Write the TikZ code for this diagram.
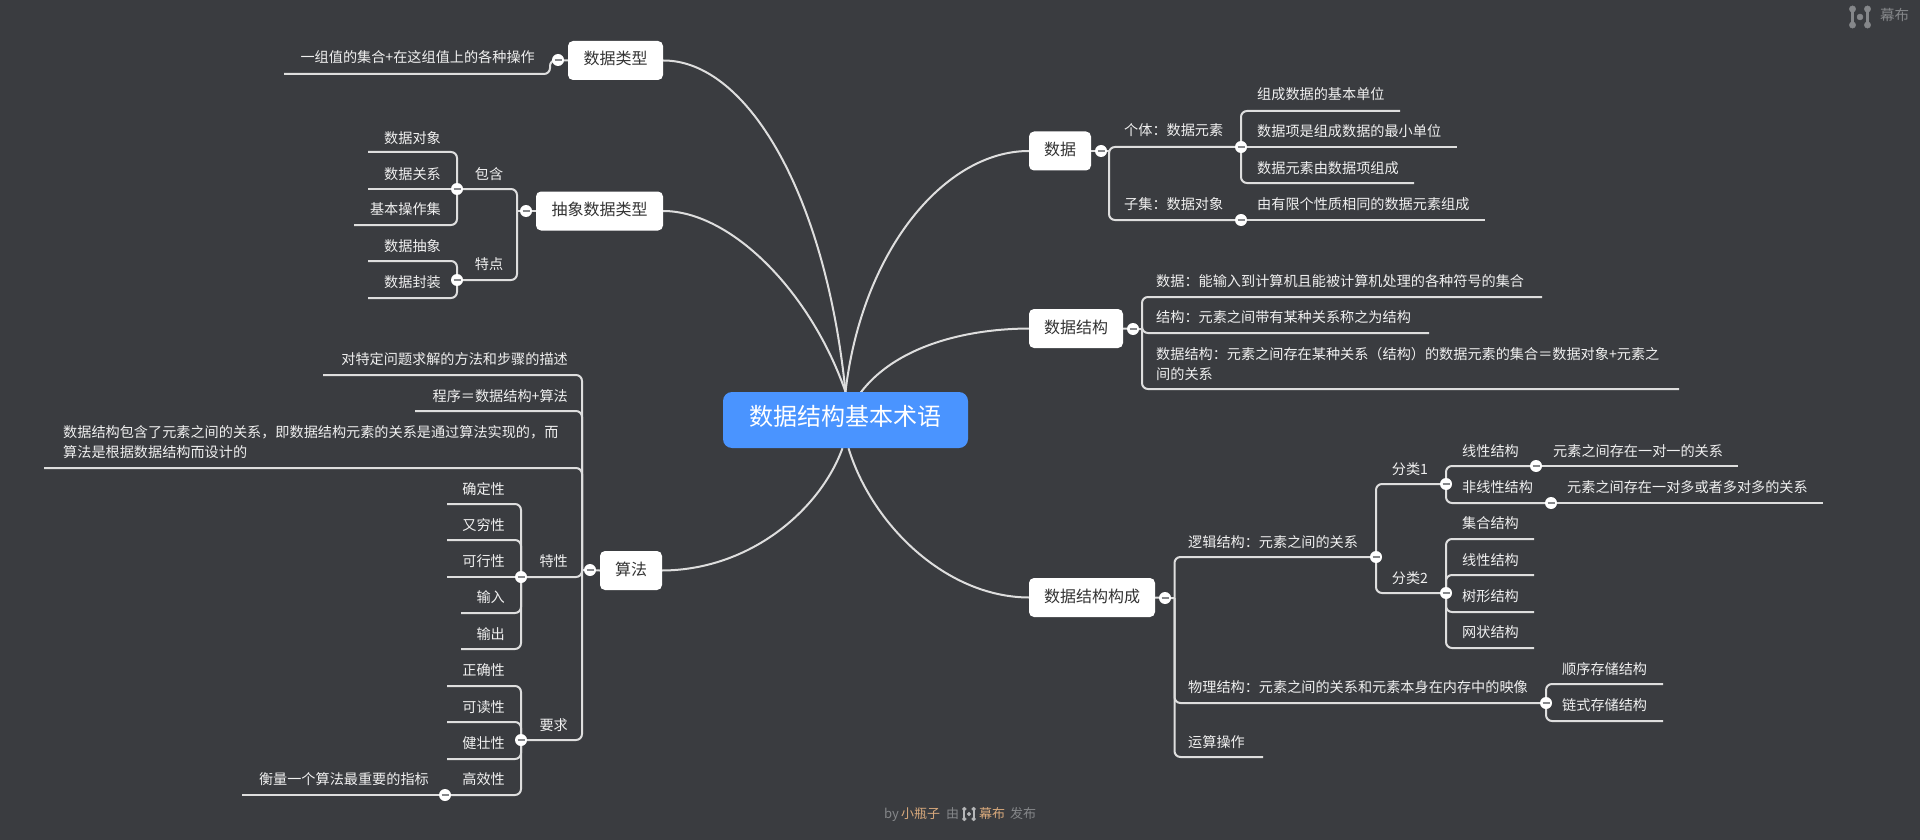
\documentclass[tikz,border=0pt]{standalone}
\usepackage{fontspec}
\setmainfont{Noto Sans CJK SC}
\usetikzlibrary{backgrounds}
\pgfdeclarelayer{edgelayer}
\pgfsetlayers{background,edgelayer,main}
\definecolor{bgc}{HTML}{3A3C40}
\definecolor{linec}{HTML}{DEDEDE}
\definecolor{rootc}{HTML}{4A94FF}
\definecolor{darktext}{HTML}{333333}
\definecolor{leaftext}{HTML}{F0F0F0}
\definecolor{footc}{HTML}{85878A}
\definecolor{orangec}{HTML}{D8A97C}
\tikzset{
  x=1pt,y=-1pt,
  link/.style={draw=linec,line width=2pt,rounded corners=6pt},
  curvelink/.style={draw=linec,line width=2pt},
  rootbox/.style={fill=rootc,rounded corners=9pt,text=white,inner sep=0pt,minimum width=245pt,minimum height=56pt,font=\fontsize{24}{30}\selectfont,text height=20pt,text depth=9pt},
  topic/.style={fill=white,rounded corners=5pt,text=darktext,inner sep=0pt,minimum height=39pt,font=\fontsize{16}{20}\selectfont,text height=12pt,text depth=3pt},
  leaf/.style={text=leaftext,inner sep=0pt,font=\fontsize{14.15}{20}\selectfont,text height=11pt,text depth=1pt},
  multi/.style={text=leaftext,inner sep=0pt,font=\fontsize{14.15}{20}\selectfont,align=left},
  toggle/.style={circle,fill=white,draw=none,minimum size=12pt,inner sep=0pt,
    path picture={\draw[draw=footc,line width=1.8pt] ([xshift=-3.5pt]path picture bounding box.center) -- ([xshift=3.5pt]path picture bounding box.center);}},
  foot/.style={text=footc,inner sep=0pt,font=\fontsize{13}{16}\selectfont,text height=10pt,text depth=1pt},
  footo/.style={foot,text=orangec},
  logo/.pic={
    \fill[pic actions] (-7.5,-8) circle (3.2) (7.5,-8) circle (3.2) (-7.5,8) circle (3.2) (7.5,8) circle (3.2) (0,0) circle (3);
    \draw[pic actions,line width=2.2pt] (-7.5,-8) -- (-7.5,8) (7.5,-8) -- (7.5,8);
  },
}
\begin{document}
\begin{tikzpicture}
\useasboundingbox (0,0) rectangle (1920,840);
\begin{pgfonlayer}{background}
\fill[bgc] (0,0) rectangle (1920,840);
\end{pgfonlayer}

% root and topics
\node[rootbox] (root) at (845.5,420) {数据结构基本术语};
\node[topic,minimum width=95pt] (tType) at (615.5,60.5) {数据类型};
\node[topic,minimum width=127pt] (tAdt) at (599.5,211) {抽象数据类型};
\node[topic,minimum width=62pt] (tAlg) at (631,570.5) {算法};
\node[topic,minimum width=62pt] (tData) at (1060,151) {数据};
\node[topic,minimum width=94pt] (tStruct) at (1076,328.5) {数据结构};
\node[topic,minimum width=126pt] (tComp) at (1092,597.5) {数据结构构成};

% toggles
\node[toggle] (cType) at (558,60) {};
\node[toggle] (cAdt) at (526,211) {};
\node[toggle] (cInc) at (457,189) {};
\node[toggle] (cFea) at (457,280) {};
\node[toggle] (cAlg) at (590,570) {};
\node[toggle] (cProp) at (521,577) {};
\node[toggle] (cReq) at (521,740) {};
\node[toggle] (cEff) at (445,795) {};
\node[toggle] (cData) at (1101,151) {};
\node[toggle] (cInd) at (1241,147) {};
\node[toggle] (cSub) at (1241,220) {};
\node[toggle] (cStruct) at (1133,329) {};
\node[toggle] (cComp) at (1165,598) {};
\node[toggle] (cLog) at (1376,557) {};
\node[toggle] (cOne) at (1446,484) {};
\node[toggle] (cTwo) at (1446,593) {};
\node[toggle] (cLin) at (1536,466) {};
\node[toggle] (cNon) at (1551,503) {};
\node[toggle] (cPhy) at (1546,703) {};

% free ends of the underlines
\coordinate (eType) at (284,74);
\coordinate (busAdt) at (517,211);
\coordinate (eA1) at (368,152);
\coordinate (eA2) at (368,189);
\coordinate (eA3) at (354,225);
\coordinate (eA4) at (368,261);
\coordinate (eA5) at (368,298);
\coordinate (busAlg) at (582,570);
\coordinate (eG1) at (323,375);
\coordinate (eG2) at (415,411);
\coordinate (eG3) at (44,468);
\coordinate (eP1) at (447,504);
\coordinate (eP2) at (447,540);
\coordinate (eP3) at (447,577);
\coordinate (eP4) at (461,613);
\coordinate (eP5) at (461,649);
\coordinate (eR1) at (447,686);
\coordinate (eR2) at (447,722);
\coordinate (eR3) at (447,759);
\coordinate (eR4) at (242,795);
\coordinate (busData) at (1109,151);
\coordinate (eD1) at (1400,111);
\coordinate (eD2) at (1457,147);
\coordinate (eD3) at (1414,183);
\coordinate (eD4) at (1485,220);
\coordinate (busStruct) at (1142,329);
\coordinate (eS1) at (1542,297);
\coordinate (eS2) at (1429,333);
\coordinate (eS3) at (1679,389);
\coordinate (busComp) at (1174.5,598);
\coordinate (eC3) at (1263,757);
\coordinate (eL1) at (1738,466);
\coordinate (eL2) at (1823,503);
\coordinate (eT1) at (1534,539);
\coordinate (eT2) at (1534,575);
\coordinate (eT3) at (1534,612);
\coordinate (eT4) at (1534,648);
\coordinate (eM1) at (1663,684);
\coordinate (eM2) at (1663,721);

\begin{pgfonlayer}{edgelayer}
% root curves
\draw[curvelink] (tType.east) .. controls (745,60) and (825,190) .. (root.north);
\draw[curvelink] (tAdt.east) .. controls (730,211) and (810,290) .. (root.north);
\draw[curvelink] (tAlg.east) .. controls (750,570) and (820,510) .. ([xshift=-3pt]root.south);
\draw[curvelink] (tData.west) .. controls (945,151) and (862,250) .. (root.north);
\draw[curvelink] (tStruct.west) .. controls (950,329) and (870,355) .. (root.center);
\draw[curvelink] (tComp.west) .. controls (946,597) and (872,525) .. ([xshift=3pt]root.south);
% data type
\draw[link] (tType.west) -- (cType.center) -- (550,60) |- (eType);
% abstract data type
\draw[link] (tAdt.west) -- (cAdt.center) -- (busAdt);
\draw[link] (busAdt) |- (cInc.center);
\draw[link] (busAdt) |- (cFea.center);
\draw[link] (cInc.center) |- (eA1);
\draw[link] (cInc.center) -- (eA2);
\draw[link] (cInc.center) |- (eA3);
\draw[link] (cFea.center) |- (eA4);
\draw[link] (cFea.center) |- (eA5);
% algorithm
\draw[link] (tAlg.west) -- (cAlg.center) -- (busAlg);
\draw[link] (busAlg) |- (eG1);
\draw[link] (busAlg) |- (eG2);
\draw[link] (busAlg) |- (eG3);
\draw[link] (busAlg) |- (cProp.center);
\draw[link] (busAlg) |- (cReq.center);
\draw[link] (cProp.center) |- (eP1);
\draw[link] (cProp.center) |- (eP2);
\draw[link] (cProp.center) -- (eP3);
\draw[link] (cProp.center) |- (eP4);
\draw[link] (cProp.center) |- (eP5);
\draw[link] (cReq.center) |- (eR1);
\draw[link] (cReq.center) |- (eR2);
\draw[link] (cReq.center) |- (eR3);
\draw[link] (cReq.center) |- (cEff.center);
\draw[link] (cEff.center) -- (eR4);
% data
\draw[link] (tData.east) -- (cData.center) -- (busData);
\draw[link] (busData) |- (cInd.center);
\draw[link] (busData) |- (cSub.center);
\draw[link] (cInd.center) |- (eD1);
\draw[link] (cInd.center) -- (eD2);
\draw[link] (cInd.center) |- (eD3);
\draw[link] (cSub.center) -- (eD4);
% data structure
\draw[link] (tStruct.east) -- (cStruct.center) -- (busStruct);
\draw[link] (busStruct) |- (eS1);
\draw[link] (busStruct) |- (eS2);
\draw[link] (busStruct) |- (eS3);
% composition
\draw[link] (tComp.east) -- (cComp.center) -- (busComp);
\draw[link] (busComp) |- (cLog.center);
\draw[link] (busComp) |- (cPhy.center);
\draw[link] (busComp) |- (eC3);
\draw[link] (cLog.center) |- (cOne.center);
\draw[link] (cLog.center) |- (cTwo.center);
\draw[link] (cOne.center) |- (cLin.center);
\draw[link] (cOne.center) |- (cNon.center);
\draw[link] (cLin.center) -- (eL1);
\draw[link] (cNon.center) -- (eL2);
\draw[link] (cTwo.center) |- (eT1);
\draw[link] (cTwo.center) |- (eT2);
\draw[link] (cTwo.center) |- (eT3);
\draw[link] (cTwo.center) |- (eT4);
\draw[link] (cPhy.center) |- (eM1);
\draw[link] (cPhy.center) |- (eM2);
\end{pgfonlayer}

% left texts
\node[leaf,anchor=east] (x1) at (535,58) {一组值的集合+在这组值上的各种操作};
\node[leaf] (x2) at (489,174) {包含};
\node[leaf] (x3) at (489,264) {特点};
\node[leaf,anchor=east] (x4) at (441,138) {数据对象};
\node[leaf,anchor=east] (x5) at (441,174) {数据关系};
\node[leaf,anchor=east] (x6) at (441,209) {基本操作集};
\node[leaf,anchor=east] (x7) at (441,246) {数据抽象};
\node[leaf,anchor=east] (x8) at (441,282) {数据封装};
\node[leaf,anchor=east] (x9) at (568,359) {对特定问题求解的方法和步骤的描述};
\node[leaf,anchor=east] (x10) at (568,396) {程序＝数据结构+算法};
\node[multi,anchor=west] (x11) at (63,442) {数据结构包含了元素之间的关系，即数据结构元素的关系是通过算法实现的，而\\算法是根据数据结构而设计的};
\node[leaf,anchor=east] (x12) at (568,561) {特性};
\node[leaf,anchor=east] (x13) at (568,725) {要求};
\node[leaf,anchor=east] (x14) at (505,489) {确定性};
\node[leaf,anchor=east] (x15) at (505,525) {又穷性};
\node[leaf,anchor=east] (x16) at (505,561) {可行性};
\node[leaf,anchor=east] (x17) at (505,597) {输入};
\node[leaf,anchor=east] (x18) at (505,634) {输出};
\node[leaf,anchor=east] (x19) at (505,670) {正确性};
\node[leaf,anchor=east] (x20) at (505,707) {可读性};
\node[leaf,anchor=east] (x21) at (505,743) {健壮性};
\node[leaf,anchor=east] (x22) at (505,779) {高效性};
\node[leaf,anchor=east] (x23) at (429,779) {衡量一个算法最重要的指标};

% right texts
\node[leaf,anchor=west] (y1) at (1124,131) {个体：数据元素};
\node[leaf,anchor=west] (y2) at (1124,204) {子集：数据对象};
\node[leaf,anchor=west] (y3) at (1257,95) {组成数据的基本单位};
\node[leaf,anchor=west] (y4) at (1257,131.5) {数据项是组成数据的最小单位};
\node[leaf,anchor=west] (y5) at (1257,168) {数据元素由数据项组成};
\node[leaf,anchor=west] (y6) at (1257,204) {由有限个性质相同的数据元素组成};
\node[leaf,anchor=west] (y7) at (1156,281) {数据：能输入到计算机且能被计算机处理的各种符号的集合};
\node[leaf,anchor=west] (y8) at (1156,317) {结构：元素之间带有某种关系称之为结构};
\node[multi,anchor=west] (y9) at (1156,364) {数据结构：元素之间存在某种关系（结构）的数据元素的集合＝数据对象+元素之\\间的关系};
\node[leaf,anchor=west] (y10) at (1188,542) {逻辑结构：元素之间的关系};
\node[leaf,anchor=west] (y11) at (1188,687) {物理结构：元素之间的关系和元素本身在内存中的映像};
\node[leaf,anchor=west] (y12) at (1188,742) {运算操作};
\node[leaf] (y13) at (1410,469) {分类1};
\node[leaf] (y14) at (1410,578) {分类2};
\node[leaf,anchor=west] (y15) at (1462,451) {线性结构};
\node[leaf,anchor=west] (y16) at (1462,487) {非线性结构};
\node[leaf,anchor=west] (y17) at (1553,451) {元素之间存在一对一的关系};
\node[leaf,anchor=west] (y18) at (1567,487) {元素之间存在一对多或者多对多的关系};
\node[leaf,anchor=west] (y19) at (1462,523) {集合结构};
\node[leaf,anchor=west] (y20) at (1462,560) {线性结构};
\node[leaf,anchor=west] (y21) at (1462,596) {树形结构};
\node[leaf,anchor=west] (y22) at (1462,632) {网状结构};
\node[leaf,anchor=west] (y23) at (1562,669) {顺序存储结构};
\node[leaf,anchor=west] (y24) at (1562,705) {链式存储结构};

% branding
\pic[fill=footc,draw=footc] at (1860,17) {logo};
\node[foot,anchor=west,font=\fontsize{14.5}{16}\selectfont] (brand) at (1880,16) {幕布};
\node[foot,anchor=west] (f1) at (884,814) {by};
\node[footo,anchor=west] (f2) at (901,814) {小瓶子};
\node[foot,anchor=west] (f3) at (946,814) {由};
\pic[fill=footc!60!white,draw=footc!60!white,scale=0.62] at (969,814) {logo};
\node[footo,anchor=west] (f4) at (979,814) {幕布};
\node[foot,anchor=west] (f5) at (1010,814) {发布};
\end{tikzpicture}
\end{document}
